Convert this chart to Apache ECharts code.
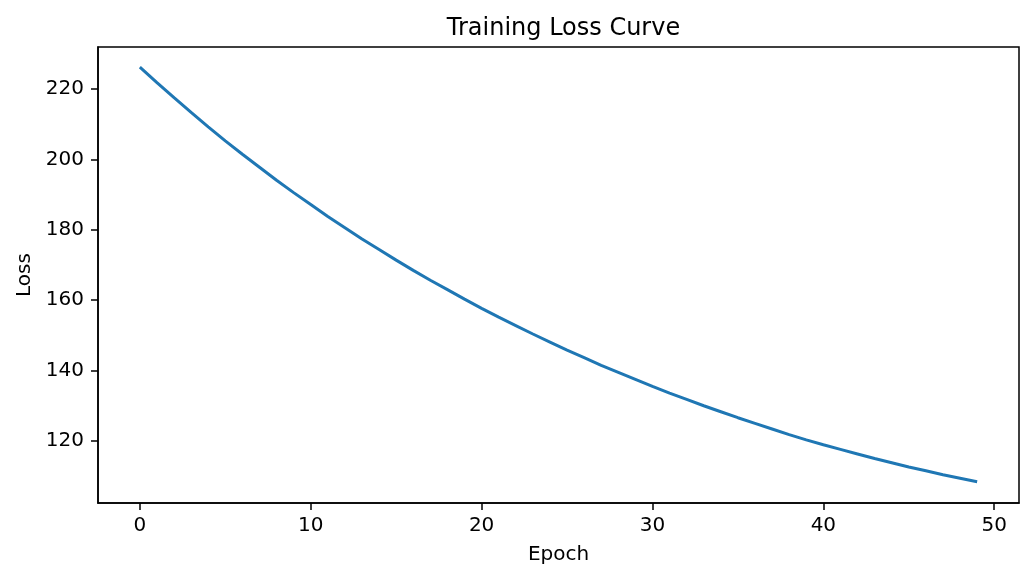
<!DOCTYPE html>
<html>
<head>
<meta charset="utf-8">
<script src="https://cdn.jsdelivr.net/npm/echarts@6/dist/echarts.min.js"></script>
<style>html,body{margin:0;padding:0;background:#fff}#c{width:1034px;height:581px}</style>
</head>
<body>
<div id="c"></div>
<script>
const epochs = Array.from({length: 50}, (_, i) => i);
const loss = [
  226.3, 221.9, 217.6, 213.4, 209.3, 205.3, 201.5, 197.8, 194.1, 190.6,
  187.2, 183.8, 180.6, 177.4, 174.4, 171.4, 168.5, 165.7, 163.0, 160.3,
  157.7, 155.2, 152.8, 150.4, 148.1, 145.8, 143.7, 141.5, 139.5, 137.5,
  135.5, 133.6, 131.8, 130.0, 128.3, 126.6, 125.0, 123.4, 121.8, 120.3,
  118.9, 117.6, 116.3, 115.0, 113.8, 112.6, 111.5, 110.4, 109.4, 108.4
];
const xTicks = [0, 10, 20, 30, 40, 50];
const yTicks = [120, 140, 160, 180, 200, 220];

const font = 'DejaVu Sans';
const chart = echarts.init(document.getElementById('c'), null, {renderer: 'canvas'});
chart.setOption({
  animation: false,
  backgroundColor: '#fff',
  title: {
    text: 'Training Loss Curve',
    left: 558.5, textAlign: 'center', top: 12,
    textStyle: {fontFamily: font, fontSize: 24, fontWeight: 'normal', color: '#000'}
  },
  grid: {left: 98, right: 15, top: 47, bottom: 78, show: true, borderColor: '#000', borderWidth: 1.5, backgroundColor: 'transparent'},
  xAxis: {
    type: 'value', min: -2.45, max: 51.45,
    name: 'Epoch', nameLocation: 'middle', nameGap: 42,
    nameTextStyle: {fontFamily: font, fontSize: 20, color: '#000'},
    axisLine: {show: true, onZero: false, lineStyle: {color: '#000', width: 1.5}},
    axisTick: {show: true, length: 7, lineStyle: {color: '#000', width: 1.5}, customValues: xTicks},
    axisLabel: {fontFamily: font, fontSize: 20, color: '#000', margin: 13, customValues: xTicks},
    splitLine: {show: false}
  },
  yAxis: {
    type: 'value', min: 102.35, max: 232.0,
    name: 'Loss', nameLocation: 'middle', nameGap: 58, nameRotate: 90,
    nameTextStyle: {fontFamily: font, fontSize: 20, color: '#000'},
    axisLine: {show: true, onZero: false, lineStyle: {color: '#000', width: 1.5}},
    axisTick: {show: true, length: 7, lineStyle: {color: '#000', width: 1.5}, customValues: yTicks},
    axisLabel: {fontFamily: font, fontSize: 20, color: '#000', margin: 14, customValues: yTicks},
    splitLine: {show: false}
  },
  series: [{
    type: 'line',
    data: epochs.map((e, i) => [e, loss[i]]),
    showSymbol: false,
    lineStyle: {color: '#1f77b4', width: 3},
    itemStyle: {color: '#1f77b4'}
  }]
});
</script>
</body>
</html>
